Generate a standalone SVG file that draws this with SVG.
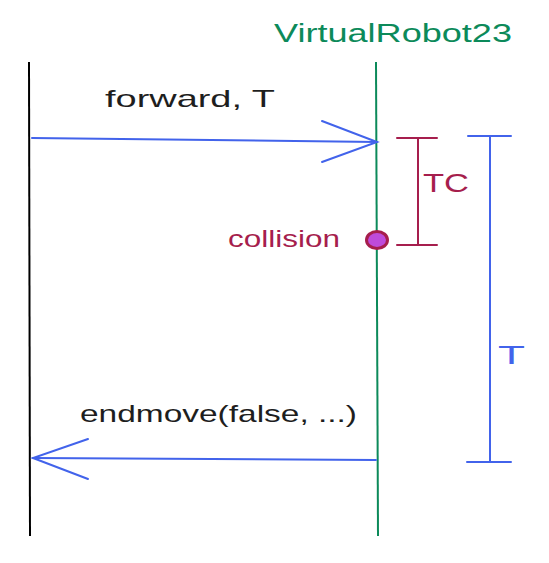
<svg xmlns="http://www.w3.org/2000/svg" width="549" height="563" viewBox="0 0 549 563">
<defs>
<style>
.t{font-family:"Liberation Sans","DejaVu Sans",sans-serif;}
.blue{stroke:#4263eb;stroke-width:2;fill:none;stroke-linecap:round;}
.red{stroke:#a61e4d;stroke-width:2;fill:none;stroke-linecap:round;}
</style>
</defs>
<rect width="549" height="563" fill="#ffffff"/>
<g id="lifeline-client">
<line x1="29" y1="62" x2="30" y2="536" stroke="#000000" stroke-width="2"/>
</g>
<g id="lifeline-robot">
<line x1="376" y1="62" x2="378" y2="536" stroke="#0c8a5a" stroke-width="2"/>
<text class="t" x="274" y="42" font-size="26" fill="#0c8a5a" textLength="238" lengthAdjust="spacingAndGlyphs">VirtualRobot23</text>
</g>
<g id="connectors">
<g id="msg-forward">
<path class="blue" d="M32 138 L377 142"/>
<path class="blue" d="M322 121 L377 142 L322 162"/>
<text class="t" x="105" y="107" font-size="24" fill="#1e1e1e" textLength="170" lengthAdjust="spacingAndGlyphs">forward, T</text>
</g>
<g id="msg-endmove">
<path class="blue" d="M376 460 L33 458"/>
<path class="blue" d="M88 439 L33 458 L88 479"/>
<text class="t" x="80" y="422" font-size="24" fill="#1e1e1e" textLength="277" lengthAdjust="spacingAndGlyphs">endmove(false, ...)</text>
</g>
</g>
<g id="bracket-TC">
<path class="red" d="M397 138 H437 M418 138 V245 M397 245 H437"/>
<text class="t" x="423" y="192" font-size="26" fill="#a61e4d" textLength="46" lengthAdjust="spacingAndGlyphs">TC</text>
</g>
<g id="bracket-T">
<path class="blue" d="M468 136 H511 M490 136 V462 M467 462 H511"/>
<text class="t" x="498" y="364" font-size="26" fill="#4263eb" textLength="27" lengthAdjust="spacingAndGlyphs">T</text>
</g>
<g id="collision">
<ellipse cx="377" cy="240" rx="10.5" ry="8.5" fill="#be4bdb" stroke="#a61e4d" stroke-width="3"/>
<text class="t" x="228" y="247" font-size="24" fill="#a61e4d" textLength="112" lengthAdjust="spacingAndGlyphs">collision</text>
</g>
</svg>
